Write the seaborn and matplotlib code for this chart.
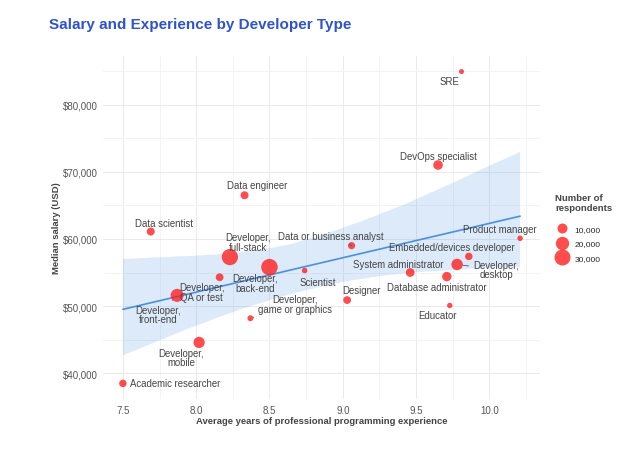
"""
Salary vs. experience by developer type: bubble scatter with a linear fit.
"""
import matplotlib.pyplot as plt
import matplotlib.ticker as mticker
import numpy as np
import pandas as pd
import seaborn as sns

dev_types = [
    "Academic researcher", "Data scientist", "Data engineer",
    "Developer,\nfull-stack", "Developer,\nback-end", "Developer,\nQA or test",
    "Developer,\nfront-end", "Developer,\nmobile", "Developer,\ngame or graphics",
    "Scientist", "Data or business analyst", "Designer",
    "System administrator", "Database administrator", "Educator",
    "Embedded/devices developer", "Developer,\ndesktop", "Product manager",
    "DevOps specialist", "SRE",
]
avg_years = [
    7.50, 7.69, 8.33,
    8.23, 8.50, 8.16,
    7.87, 8.02, 8.37,
    8.74, 9.06, 9.03,
    9.46, 9.71, 9.73,
    9.86, 9.78, 10.21,
    9.65, 9.81,
]
median_salary = [
    38500, 61100, 66500,
    57300, 55800, 54300,
    51600, 44600, 48200,
    55300, 59000, 50900,
    55000, 54400, 50100,
    57400, 56200, 60100,
    71000, 84900,
]
respondents = [
    4400, 5400, 5400,
    31000, 32000, 5000,
    19000, 13500, 1800,
    1200, 3800, 5000,
    7000, 8500, 1000,
    4400, 14000, 1200,
    9000, 500,
]
legend_counts = [10000, 20000, 30000]

df = pd.DataFrame({
    "dev_type": dev_types,
    "years": avg_years,
    "salary": median_salary,
    "respondents": respondents,
})

# ── Styling ──────────────────────────────────────────────────────────────────
TITLE_BLUE = "#3053CC"
LINE_BLUE = "#4A90E2"
POINT_RED = "#FF1A1A"
TEXT_GREY = "#444444"

SIZE_NORM = (0, 35000)
SIZE_RANGE = (11, 153)   # marker area in pt^2

# label placement: (right, down) in pixels from the point, plus leader line flag
LABEL_OFFSETS = {
    "Academic researcher":        (7, 0, "left", False),
    "Data scientist":             (13, -9, "center", False),
    "Data engineer":              (13, -10, "center", False),
    "Developer,\nfull-stack":     (18, -15, "center", False),
    "Developer,\nback-end":       (-14, 16, "center", False),
    "Developer,\nQA or test":     (-18, 15, "center", False),
    "Developer,\nfront-end":      (-19, 19, "center", True),
    "Developer,\nmobile":         (-18, 15, "center", False),
    "Developer,\ngame or graphics": (45, -14, "center", True),
    "Scientist":                  (13, 11, "center", False),
    "Data or business analyst":   (-21, -10, "center", True),
    "Designer":                   (14, -10, "center", False),
    "System administrator":       (-12, -9, "center", False),
    "Database administrator":     (-10, 10, "center", False),
    "Educator":                   (-12, 10, "center", False),
    "Embedded/devices developer": (-17, -9, "center", False),
    "Developer,\ndesktop":        (39, 5, "center", True),
    "Product manager":            (-20, -9, "center", False),
    "DevOps specialist":          (0, -9, "center", False),
    "SRE":                        (-12, 9, "center", False),
}


def marker_area(n):
    lo, hi = SIZE_NORM
    return SIZE_RANGE[0] + (SIZE_RANGE[1] - SIZE_RANGE[0]) * (n - lo) / (hi - lo)


sns.set_theme(style="white")
plt.rcParams["font.family"] = ["Liberation Sans", "DejaVu Sans"]

fig = plt.figure(figsize=(6.34, 4.64), dpi=100)
ax = fig.add_axes([0.1625, 0.1379, 0.6892, 0.7393])

# ── Linear fit with 95% band ─────────────────────────────────────────────────
sns.regplot(
    data=df, x="years", y="salary", scatter=False, ci=95,
    n_boot=5000, seed=11, color=LINE_BLUE, line_kws={"lw": 1.2}, ax=ax,
)
for coll in ax.collections:
    coll.set_alpha(0.19)
    coll.set_edgecolor("none")

# ── Bubbles ──────────────────────────────────────────────────────────────────
sns.scatterplot(
    data=df, x="years", y="salary", size="respondents",
    sizes=SIZE_RANGE, size_norm=SIZE_NORM, color=POINT_RED,
    alpha=0.78, linewidth=0, legend=False, zorder=3, ax=ax,
)

# ── Labels ───────────────────────────────────────────────────────────────────
for _, row in df.iterrows():
    dx, dy, ha, leader = LABEL_OFFSETS[row["dev_type"]]
    arrow = None
    if leader:
        r_pt = np.sqrt(marker_area(row["respondents"])) / 2
        arrow = dict(arrowstyle="-", color="#555555", lw=0.6,
                     shrinkA=1, shrinkB=r_pt)
    ax.annotate(
        row["dev_type"], xy=(row["years"], row["salary"]),
        xytext=(dx, -dy), textcoords="offset pixels",
        ha=ha, va="center", fontsize=6.9, color=TEXT_GREY,
        linespacing=0.95, zorder=4, arrowprops=arrow,
    )

# ── Axes ─────────────────────────────────────────────────────────────────────
ax.set_xticks(np.arange(7.5, 10.01, 0.5))
ax.xaxis.set_minor_locator(mticker.MultipleLocator(0.25))
ax.set_yticks(np.arange(40000, 80001, 10000))
ax.yaxis.set_minor_locator(mticker.MultipleLocator(5000))
ax.yaxis.set_major_formatter(mticker.FuncFormatter(lambda v, _: f"${v:,.0f}"))
ax.xaxis.set_major_formatter(mticker.FormatStrFormatter("%.1f"))

ax.grid(which="major", color="#EAEAEA", lw=0.72)
ax.grid(which="minor", color="#F3F3F3", lw=0.72)
ax.set_axisbelow(True)
for s in ax.spines.values():
    s.set_visible(False)
ax.tick_params(which="both", length=0, labelsize=7, labelcolor="#555555", pad=4)

ax.set_xlabel("Average years of professional programming experience",
              fontsize=6.8, fontweight="bold", color=TEXT_GREY, labelpad=1)
ax.set_ylabel("Median salary (USD)", fontsize=6.8, fontweight="bold",
              color=TEXT_GREY, labelpad=1)

fig.text(49 / 634, 1 - 25 / 464, "Salary and Experience by Developer Type",
         fontsize=11, fontweight="bold", color=TITLE_BLUE, va="center")

# ── Size legend ──────────────────────────────────────────────────────────────
fig.text(555 / 634, 1 - 194 / 464, "Number of\nrespondents", fontsize=6.8,
         fontweight="bold", color=TEXT_GREY, va="top", linespacing=1.2)
handles = [
    ax.scatter([], [], s=marker_area(n), color=POINT_RED, alpha=0.78, linewidth=0)
    for n in legend_counts
]
fig.legend(
    handles, [f"{n:,}" for n in legend_counts],
    loc="upper left", bbox_to_anchor=(548 / 634, 1 - 220 / 464), frameon=False,
    fontsize=6, scatterpoints=1, labelspacing=0.8,
    handletextpad=0.5, borderpad=0.2,
)

plt.savefig("out.png", dpi=100)
plt.close()
